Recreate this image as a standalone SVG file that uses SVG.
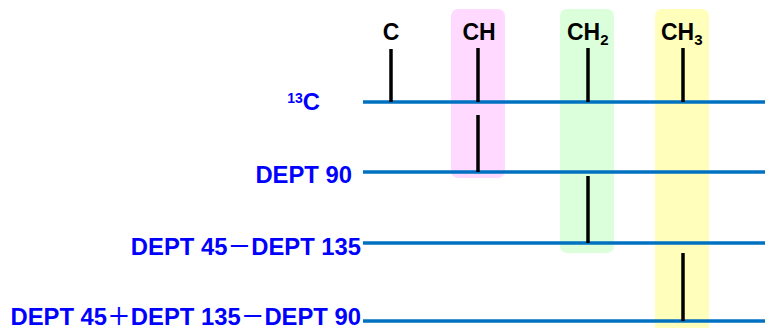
<svg xmlns="http://www.w3.org/2000/svg" width="765" height="328" viewBox="0 0 765 328">
  <style>
    .base { stroke: #0070c0; stroke-width: 3.5; fill: none; }
    .peak { stroke: #000; stroke-width: 3.5; fill: none; }
    .row { font-family: "Liberation Sans", "Noto Sans CJK SC", Arial, sans-serif; font-weight: bold; font-size: 23.8px; fill: #0000ff; text-anchor: end; }
    .grp { font-family: "Liberation Sans", Arial, sans-serif; font-weight: bold; font-size: 23px; fill: #000; }
    .op { font-family: "Noto Sans CJK SC", sans-serif; font-weight: 500; }
  </style>

  <!-- highlighted columns for CH, CH2, CH3 -->
  <g id="bands">
    <rect id="band-ch" x="451" y="9" width="54" height="169" rx="7" fill="#ffd9ff"/>
    <rect id="band-ch2" x="560" y="9" width="54" height="244" rx="7" fill="#dbffdb"/>
    <rect id="band-ch3" x="655" y="9" width="54" height="330" rx="7" fill="#ffffbb"/>
  </g>

  <!-- carbon type headings -->
  <g id="headings" class="grp">
    <text x="391" y="40" text-anchor="middle">C</text>
    <text x="479" y="40" text-anchor="middle">CH</text>
    <text x="567" y="40">CH<tspan font-size="15" dy="5">2</tspan></text>
    <text x="661" y="40">CH<tspan font-size="15" dy="5">3</tspan></text>
  </g>

  <!-- row labels -->
  <g id="labels" class="row">
    <text x="320" y="110"><tspan font-size="14" dy="-7">13</tspan><tspan dy="7">C</tspan></text>
    <text x="352" y="183">DEPT 90</text>
    <text x="361" y="255">DEPT 45<tspan class="op">－</tspan>DEPT 135</text>
    <text x="361" y="325">DEPT 45<tspan class="op">＋</tspan>DEPT 135<tspan class="op">－</tspan>DEPT 90</text>
  </g>

  <!-- spectrum baselines -->
  <g id="baselines" class="base">
    <line x1="363" y1="102" x2="765" y2="102"/>
    <line x1="363" y1="172" x2="765" y2="172"/>
    <line x1="363" y1="243" x2="765" y2="243"/>
    <line x1="363" y1="321" x2="765" y2="321"/>
  </g>

  <!-- signals -->
  <g id="peaks" class="peak">
    <line x1="391" y1="49" x2="391" y2="102"/>
    <line x1="478" y1="48" x2="478" y2="102"/>
    <line x1="588" y1="48" x2="588" y2="102"/>
    <line x1="683" y1="48" x2="683" y2="102"/>
    <line x1="478" y1="115" x2="478" y2="172"/>
    <line x1="588" y1="176" x2="588" y2="243"/>
    <line x1="683" y1="253" x2="683" y2="321"/>
  </g>
</svg>
